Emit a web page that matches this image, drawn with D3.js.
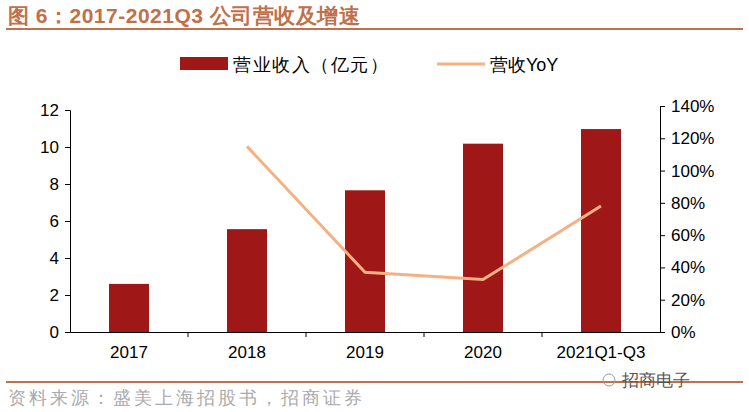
<!DOCTYPE html><html><head><meta charset="utf-8"><script src="https://cdn.jsdelivr.net/npm/d3@7"></script>
<style>body{margin:0;background:#fff}text{font-family:"Liberation Sans",Arial,sans-serif}</style></head><body><svg id="c" width="749" height="412"></svg>
<script>
const categories=["2017","2018","2019","2020","2021Q1-Q3"];
const revenue=[2.6,5.56,7.66,10.18,10.97];
const yoy=[null,115,37,32.5,78];
const leftTicks=[0,2,4,6,8,10,12];
const rightTicks=[0,20,40,60,80,100,120,140];
const svg=d3.select("#c");
const cjk='"Noto Sans CJK SC",sans-serif';
const tc="#c0704a";
svg.append("text").attr("x",8).attr("y",23).attr("fill",tc).attr("font-size",21).attr("font-weight","bold").attr("font-family",cjk).attr("letter-spacing",0.5).text("图 6：2017-2021Q3 公司营收及增速");
svg.append("rect").attr("x",6).attr("y",28).attr("width",737).attr("height",2).attr("fill",tc);
svg.append("rect").attr("x",6).attr("y",381).attr("width",737).attr("height",2).attr("fill",tc);
svg.append("text").attr("x",8).attr("y",404).attr("fill","#aaa").attr("font-size",18).attr("letter-spacing",3).attr("font-family",cjk).text("资料来源：盛美上海招股书，招商证券");
svg.append("text").attr("x",622).attr("y",386).attr("fill","#555").attr("font-size",17).attr("font-family",cjk).text("招商电子");
svg.append("circle").attr("cx",609).attr("cy",380).attr("r",6).attr("fill","none").attr("stroke","#999");
const x=d3.scaleBand().domain(categories).range([70,660]);
const yL=d3.scaleLinear().domain([0,12]).range([332,110]);
const yR=d3.scaleLinear().domain([0,140]).range([332,106]);
svg.selectAll(".bar").data(revenue).join("rect").attr("x",(d,i)=>x(categories[i])+x.bandwidth()/2-20).attr("width",40).attr("y",d=>yL(d)).attr("height",d=>332-yL(d)).attr("fill","#a01717");
const line=d3.line().defined(d=>d!=null).x((d,i)=>x(categories[i])+x.bandwidth()/2).y(d=>yR(d));
svg.append("path").datum(yoy).attr("d",line).attr("fill","none").attr("stroke","#f4b183").attr("stroke-width",3);
const ga=svg.append("g").attr("transform","translate(0,332)").call(d3.axisBottom(x).tickSize(0).tickPadding(14));
ga.selectAll("text").attr("font-size",17).attr("fill","#000");
ga.select(".domain").attr("stroke","#000");
categories.slice(1).forEach(c=>ga.append("line").attr("x1",x(c)).attr("x2",x(c)).attr("y1",0).attr("y2",5).attr("stroke","#000"));
const gl=svg.append("g").attr("transform","translate(70,0)").call(d3.axisLeft(yL).tickValues(leftTicks).tickSize(5).tickPadding(6));
gl.selectAll("text").attr("font-size",17).attr("fill","#000");
gl.selectAll("line,.domain").attr("stroke","#000");
const gr=svg.append("g").attr("transform","translate(660,0)").call(d3.axisRight(yR).tickValues(rightTicks).tickFormat(d=>d+"%").tickSize(5).tickPadding(6));
gr.selectAll("text").attr("font-size",17).attr("fill","#000");
gr.selectAll("line,.domain").attr("stroke","#000");
svg.append("rect").attr("x",180).attr("y",57).attr("width",48).attr("height",13).attr("fill","#a01717");
svg.append("text").attr("x",233).attr("y",71).attr("font-size",18).attr("letter-spacing",1.5).attr("font-family",cjk).text("营业收入（亿元）");
svg.append("line").attr("x1",437).attr("x2",485).attr("y1",64).attr("y2",64).attr("stroke","#f4b183").attr("stroke-width",3);
svg.append("text").attr("x",490).attr("y",71).attr("font-size",18).attr("font-family",cjk).text("营收YoY");
</script></body></html>
